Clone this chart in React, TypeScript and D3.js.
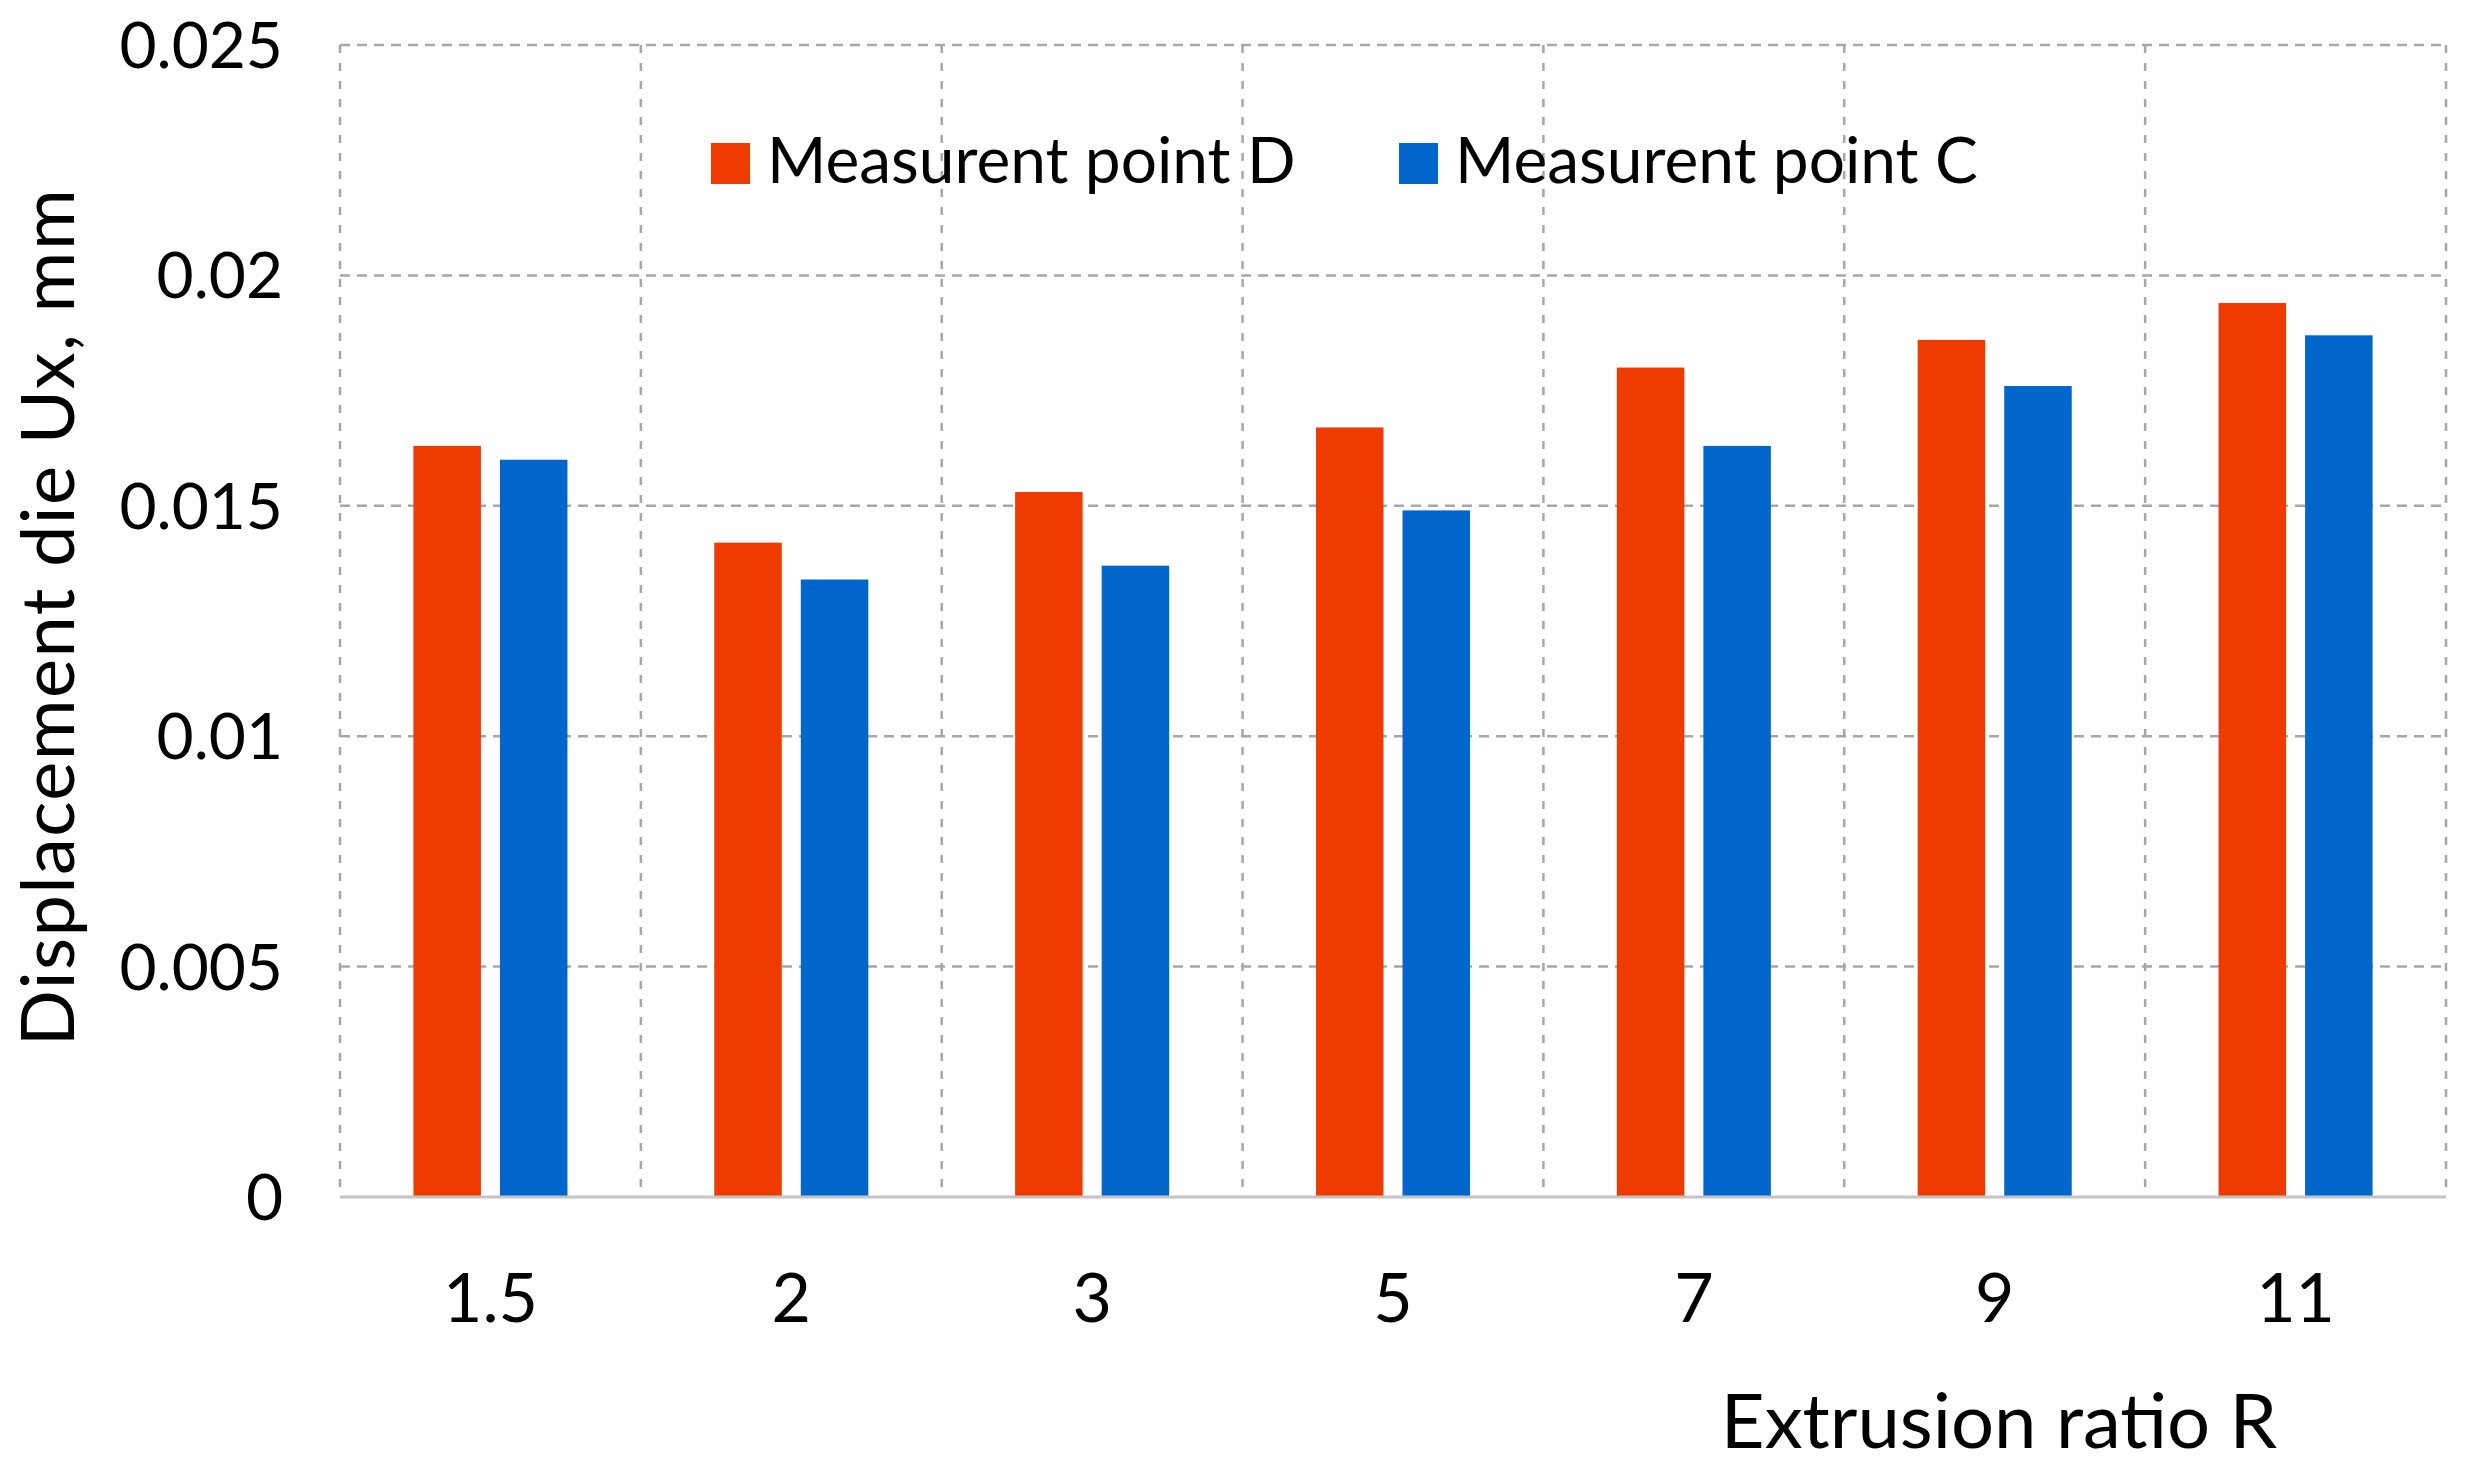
import React from "react";
import * as d3 from "d3";

const categories = ["1.5", "2", "3", "5", "7", "9", "11"];
const seriesNames = ["Measurent point D", "Measurent point C"];
const seriesColors = ["#EF3A00", "#0066CC"];
const valuesD = [0.0163, 0.0142, 0.0153, 0.0167, 0.018, 0.0186, 0.0194];
const valuesC = [0.016, 0.0134, 0.0137, 0.0149, 0.0163, 0.0176, 0.0187];
const yTicks = [0, 0.005, 0.01, 0.015, 0.02, 0.025];
const yTickLabels = ["0", "0.005", "0.01", "0.015", "0.02", "0.025"];
const yTitle = "Displacement die Ux, mm";
const xTitle = "Extrusion ratio R";

const W = 2466;
const H = 1476;
const FONT = "Lato, 'Open Sans', sans-serif";

export default function App() {
  const left = 340,
    right = 2446,
    top = 45,
    bottom = 1197;
  const x0 = d3.scaleBand<string>().domain(categories).range([left, right]).padding(0);
  const bw = x0.bandwidth();
  const x1 = d3
    .scaleBand<number>()
    .domain([0, 1])
    .range([bw * 0.244, bw * 0.756])
    .paddingInner(0.22)
    .paddingOuter(0);
  const y = d3.scaleLinear().domain([0, 0.025]).range([bottom, top]);
  const series = [valuesD, valuesC];

  const gridColor = "#A6A6AE";
  const vLines = categories.map((c) => x0(c) as number).concat([right]);

  return (
    <svg
      width={W}
      height={H}
      style={{ position: "absolute", left: 0, top: 0, display: "block", background: "#fff" }}
      fontFamily={FONT}
    >
      <rect x={0} y={0} width={W} height={H} fill="#fff" />
      {yTicks
        .filter((t) => t > 0)
        .map((t) => (
          <line
            key={"h" + t}
            x1={left}
            x2={right}
            y1={y(t)}
            y2={y(t)}
            stroke={gridColor}
            strokeWidth={2.5}
            strokeDasharray="10,7"
          />
        ))}
      {vLines.map((vx, i) => (
        <line
          key={"v" + i}
          x1={vx}
          x2={vx}
          y1={top}
          y2={bottom}
          stroke={gridColor}
          strokeWidth={2.5}
          strokeDasharray="8,10"
        />
      ))}
      {categories.map((c, ci) => (
        <g key={c} transform={`translate(${x0(c)},0)`}>
          {series.map((vals, si) => (
            <rect
              key={si}
              x={x1(si)}
              y={y(vals[ci])}
              width={x1.bandwidth()}
              height={y(0) - y(vals[ci])}
              fill={seriesColors[si]}
            />
          ))}
        </g>
      ))}
      <line x1={left} x2={right} y1={bottom} y2={bottom} stroke="#C4C4C4" strokeWidth={3} />
      {yTicks.map((t, i) => (
        <text
          key={"yt" + i}
          x={283}
          y={y(t)}
          dy="0.36em"
          textAnchor="end"
          fontSize={64}
          fill="#000"
        >
          {yTickLabels[i]}
        </text>
      ))}
      {categories.map((c) => (
        <text
          key={"xt" + c}
          x={(x0(c) as number) + bw / 2}
          y={1322}
          textAnchor="middle"
          fontSize={68}
          fill="#000"
        >
          {c}
        </text>
      ))}
      <text
        transform={`translate(74,617) rotate(-90)`}
        textAnchor="middle"
        fontSize={74}
        letterSpacing={1.4}
        fill="#000"
      >
        {yTitle}
      </text>
      <text x={1999} y={1448} textAnchor="middle" fontSize={76} fill="#000">
        {xTitle}
      </text>
      {seriesNames.map((name, i) => {
        const sx = i === 0 ? 711 : 1399;
        return (
          <g key={name}>
            <rect x={sx} y={143} width={39} height={41} fill={seriesColors[i]} />
            <text x={sx + 56} y={183} fontSize={64} fill="#000">
              {name}
            </text>
          </g>
        );
      })}
    </svg>
  );
}
